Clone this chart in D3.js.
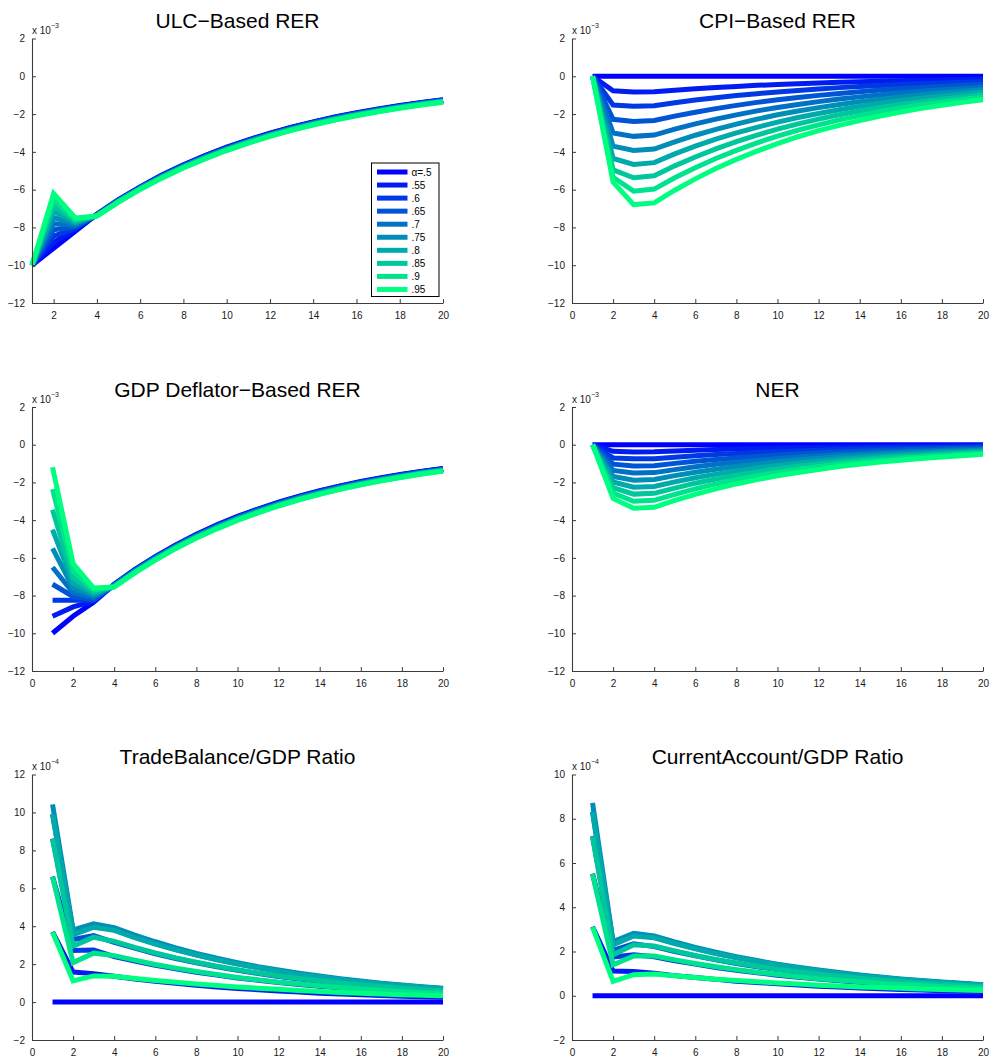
<!DOCTYPE html>
<html>
<head>
<meta charset="utf-8">
<script src="https://cdn.jsdelivr.net/npm/d3@7"></script>
<style>
  html, body { margin: 0; padding: 0; background: #fff; }
  svg { display: block; }
  text { font-family: "Liberation Sans", Arial, Helvetica, sans-serif; }
</style>
</head>
<body>
<svg id="chart" width="995" height="1058"></svg>
<script>
// ---------------- DATA ----------------
const periods = [1,2,3,4,5,6,7,8,9,10,11,12,13,14,15,16,17,18,19,20];
const alphaLabels = ["\u03B1=.5", ".55", ".6", ".65", ".7", ".75", ".8", ".85", ".9", ".95"];
const titles = ["ULC\u2212Based RER", "CPI\u2212Based RER", "GDP Deflator\u2212Based RER", "NER",
                "TradeBalance/GDP Ratio", "CurrentAccount/GDP Ratio"];
const exponents = ["\u22123", "\u22123", "\u22123", "\u22123", "\u22124", "\u22124"];
const yTicksRER = [-12, -10, -8, -6, -4, -2, 0, 2];
const yTicksTB = [-2, 0, 2, 4, 6, 8, 10, 12];
const yTicksCA = [-2, 0, 2, 4, 6, 8, 10];
const xTicksFull = [0, 2, 4, 6, 8, 10, 12, 14, 16, 18, 20];
const xTicksFrom2 = [2, 4, 6, 8, 10, 12, 14, 16, 18, 20];

// values in units of 1e-3 (RER panels) and 1e-4 (ratio panels)
const ulc = [
  [-10,-9.10,-8.20,-7.30,-6.53,-5.85,-5.23,-4.69,-4.19,-3.75,-3.36,-3.01,-2.69,-2.41,-2.15,-1.93,-1.73,-1.55,-1.38,-1.24],
  [-10,-8.78,-8.12,-7.31,-6.54,-5.87,-5.25,-4.71,-4.21,-3.77,-3.38,-3.03,-2.71,-2.43,-2.17,-1.95,-1.75,-1.57,-1.40,-1.25],
  [-10,-8.46,-8.04,-7.32,-6.56,-5.88,-5.27,-4.73,-4.23,-3.79,-3.40,-3.05,-2.73,-2.45,-2.19,-1.97,-1.76,-1.58,-1.41,-1.27],
  [-10,-8.13,-7.97,-7.33,-6.57,-5.90,-5.28,-4.74,-4.25,-3.81,-3.42,-3.07,-2.75,-2.47,-2.21,-1.98,-1.78,-1.60,-1.43,-1.28],
  [-10,-7.80,-7.89,-7.34,-6.59,-5.91,-5.30,-4.76,-4.27,-3.83,-3.44,-3.09,-2.77,-2.49,-2.23,-2.00,-1.80,-1.61,-1.44,-1.30],
  [-10,-7.48,-7.81,-7.36,-6.60,-5.93,-5.32,-4.78,-4.29,-3.85,-3.46,-3.10,-2.78,-2.50,-2.24,-2.02,-1.81,-1.63,-1.46,-1.31],
  [-10,-7.16,-7.73,-7.37,-6.62,-5.94,-5.34,-4.80,-4.31,-3.87,-3.48,-3.12,-2.80,-2.52,-2.26,-2.04,-1.83,-1.64,-1.47,-1.33],
  [-10,-6.84,-7.66,-7.38,-6.63,-5.96,-5.35,-4.81,-4.33,-3.89,-3.50,-3.14,-2.82,-2.54,-2.28,-2.05,-1.85,-1.66,-1.49,-1.34],
  [-10,-6.52,-7.58,-7.39,-6.65,-5.97,-5.37,-4.83,-4.35,-3.91,-3.52,-3.16,-2.84,-2.56,-2.30,-2.07,-1.86,-1.67,-1.50,-1.36],
  [-10,-6.20,-7.50,-7.40,-6.66,-5.99,-5.39,-4.85,-4.37,-3.93,-3.54,-3.18,-2.86,-2.58,-2.32,-2.09,-1.88,-1.69,-1.52,-1.37]
];
const cpi = [
  [0,0,0,0,0,0,0,0,0,0,0,0,0,0,0,0,0,0,0,0],
  [0,-0.77,-0.83,-0.82,-0.74,-0.66,-0.60,-0.54,-0.48,-0.44,-0.39,-0.35,-0.32,-0.29,-0.26,-0.23,-0.21,-0.19,-0.17,-0.15],
  [0,-1.52,-1.59,-1.56,-1.40,-1.26,-1.14,-1.02,-0.92,-0.83,-0.75,-0.67,-0.60,-0.54,-0.49,-0.44,-0.40,-0.36,-0.32,-0.29],
  [0,-2.28,-2.39,-2.34,-2.11,-1.90,-1.71,-1.54,-1.38,-1.24,-1.12,-1.01,-0.91,-0.82,-0.73,-0.66,-0.59,-0.54,-0.48,-0.43],
  [0,-3.00,-3.18,-3.11,-2.80,-2.52,-2.27,-2.04,-1.83,-1.65,-1.49,-1.34,-1.20,-1.09,-0.98,-0.88,-0.79,-0.71,-0.64,-0.58],
  [0,-3.70,-3.93,-3.85,-3.47,-3.12,-2.81,-2.53,-2.27,-2.04,-1.84,-1.66,-1.49,-1.34,-1.21,-1.09,-0.98,-0.88,-0.79,-0.71],
  [0,-4.35,-4.67,-4.57,-4.11,-3.70,-3.33,-3.00,-2.70,-2.43,-2.18,-1.97,-1.77,-1.59,-1.43,-1.29,-1.16,-1.05,-0.94,-0.85],
  [0,-4.95,-5.37,-5.27,-4.74,-4.27,-3.84,-3.46,-3.11,-2.80,-2.52,-2.27,-2.04,-1.84,-1.65,-1.49,-1.34,-1.21,-1.09,-0.97],
  [0,-5.35,-6.08,-5.97,-5.37,-4.84,-4.35,-3.92,-3.52,-3.17,-2.85,-2.57,-2.31,-2.08,-1.87,-1.68,-1.52,-1.37,-1.23,-1.10],
  [0,-5.60,-6.79,-6.70,-6.03,-5.43,-4.88,-4.40,-3.96,-3.56,-3.20,-2.88,-2.60,-2.34,-2.10,-1.89,-1.70,-1.53,-1.38,-1.24]
];
const gdp = [
  [-10.0,-9.10,-8.35,-7.40,-6.62,-5.93,-5.31,-4.75,-4.25,-3.80,-3.41,-3.05,-2.73,-2.44,-2.18,-1.95,-1.75,-1.57,-1.40,-1.26],
  [-9.10,-8.60,-8.30,-7.42,-6.64,-5.95,-5.33,-4.77,-4.27,-3.82,-3.43,-3.07,-2.75,-2.46,-2.20,-1.97,-1.77,-1.59,-1.42,-1.28],
  [-8.25,-8.25,-8.25,-7.43,-6.66,-5.97,-5.35,-4.79,-4.30,-3.85,-3.45,-3.09,-2.77,-2.48,-2.22,-1.99,-1.79,-1.61,-1.43,-1.29],
  [-7.40,-8.05,-8.20,-7.45,-6.68,-5.99,-5.37,-4.82,-4.32,-3.87,-3.48,-3.12,-2.79,-2.50,-2.24,-2.01,-1.81,-1.62,-1.45,-1.31],
  [-6.50,-7.85,-8.10,-7.47,-6.70,-6.01,-5.39,-4.84,-4.34,-3.89,-3.50,-3.14,-2.81,-2.52,-2.26,-2.03,-1.83,-1.64,-1.47,-1.32],
  [-5.50,-7.60,-8.00,-7.48,-6.72,-6.04,-5.42,-4.86,-4.37,-3.92,-3.52,-3.16,-2.84,-2.55,-2.29,-2.05,-1.84,-1.66,-1.48,-1.34],
  [-4.50,-7.35,-7.90,-7.50,-6.74,-6.06,-5.44,-4.88,-4.39,-3.94,-3.54,-3.18,-2.86,-2.57,-2.31,-2.07,-1.86,-1.68,-1.50,-1.36],
  [-3.45,-7.05,-7.80,-7.52,-6.76,-6.08,-5.46,-4.91,-4.41,-3.96,-3.57,-3.21,-2.88,-2.59,-2.33,-2.09,-1.88,-1.69,-1.52,-1.37],
  [-2.35,-6.70,-7.70,-7.53,-6.78,-6.10,-5.48,-4.93,-4.44,-3.99,-3.59,-3.23,-2.90,-2.61,-2.35,-2.11,-1.90,-1.71,-1.53,-1.39],
  [-1.20,-6.30,-7.60,-7.55,-6.80,-6.12,-5.50,-4.95,-4.46,-4.01,-3.61,-3.25,-2.92,-2.63,-2.37,-2.13,-1.92,-1.73,-1.55,-1.40]
];
const ner = [
  [0,0,0,0,0,0,0,0,0,0,0,0,0,0,0,0,0,0,0,0],
  [0,-0.35,-0.38,-0.37,-0.33,-0.29,-0.26,-0.23,-0.21,-0.18,-0.16,-0.15,-0.13,-0.12,-0.10,-0.09,-0.08,-0.07,-0.06,-0.06],
  [0,-0.70,-0.75,-0.74,-0.66,-0.59,-0.52,-0.46,-0.41,-0.37,-0.33,-0.29,-0.26,-0.23,-0.20,-0.18,-0.16,-0.15,-0.13,-0.11],
  [0,-1.03,-1.13,-1.11,-0.99,-0.88,-0.78,-0.70,-0.62,-0.55,-0.49,-0.44,-0.39,-0.35,-0.31,-0.27,-0.24,-0.22,-0.19,-0.17],
  [0,-1.36,-1.50,-1.48,-1.32,-1.17,-1.04,-0.93,-0.83,-0.74,-0.65,-0.58,-0.52,-0.46,-0.41,-0.37,-0.33,-0.29,-0.26,-0.23],
  [0,-1.68,-1.88,-1.84,-1.64,-1.46,-1.30,-1.15,-1.03,-0.91,-0.81,-0.72,-0.64,-0.57,-0.51,-0.45,-0.40,-0.36,-0.32,-0.29],
  [0,-1.98,-2.25,-2.21,-1.97,-1.75,-1.56,-1.39,-1.23,-1.10,-0.98,-0.87,-0.77,-0.69,-0.61,-0.55,-0.49,-0.43,-0.38,-0.34],
  [0,-2.28,-2.62,-2.58,-2.30,-2.04,-1.82,-1.62,-1.44,-1.28,-1.14,-1.02,-0.90,-0.80,-0.71,-0.64,-0.57,-0.51,-0.45,-0.40],
  [0,-2.57,-3.00,-2.95,-2.63,-2.34,-2.08,-1.85,-1.65,-1.47,-1.30,-1.16,-1.03,-0.92,-0.82,-0.73,-0.65,-0.58,-0.51,-0.46],
  [0,-2.85,-3.37,-3.32,-2.95,-2.63,-2.34,-2.08,-1.85,-1.65,-1.47,-1.31,-1.16,-1.04,-0.92,-0.82,-0.73,-0.65,-0.58,-0.51]
];
const tradeBalance = [
  [0,0,0,0,0,0,0,0,0,0,0,0,0,0,0,0,0,0,0,0],
  [3.70,1.58,1.50,1.36,1.22,1.10,0.99,0.89,0.80,0.72,0.65,0.58,0.53,0.47,0.43,0.38,0.35,0.31,0.28,0.25],
  [6.62,2.72,2.75,2.40,2.16,1.94,1.75,1.57,1.42,1.27,1.15,1.03,0.93,0.84,0.75,0.68,0.61,0.55,0.49,0.44],
  [8.62,3.30,3.50,3.15,2.84,2.55,2.30,2.07,1.86,1.67,1.51,1.35,1.22,1.10,0.99,0.89,0.80,0.72,0.65,0.58],
  [9.92,3.72,4.02,3.80,3.42,3.08,2.77,2.49,2.24,2.02,1.82,1.63,1.47,1.33,1.19,1.07,0.97,0.87,0.78,0.70],
  [10.42,3.80,4.12,3.92,3.53,3.18,2.86,2.57,2.31,2.08,1.87,1.69,1.52,1.37,1.23,1.11,0.99,0.90,0.81,0.73],
  [9.90,3.55,3.95,3.78,3.40,3.06,2.76,2.48,2.23,2.01,1.81,1.63,1.46,1.32,1.19,1.07,0.96,0.87,0.78,0.70],
  [8.60,2.95,3.42,3.20,2.88,2.59,2.33,2.10,1.89,1.70,1.53,1.38,1.24,1.12,1.00,0.90,0.81,0.73,0.66,0.59],
  [6.60,2.08,2.58,2.45,2.21,1.98,1.79,1.61,1.45,1.30,1.17,1.05,0.95,0.86,0.77,0.69,0.62,0.56,0.50,0.45],
  [3.68,1.12,1.38,1.36,1.24,1.14,1.04,0.95,0.87,0.80,0.73,0.67,0.61,0.56,0.51,0.47,0.43,0.39,0.36,0.33]
];
const currentAccount = [
  [0,0,0,0,0,0,0,0,0,0,0,0,0,0,0,0,0,0,0,0],
  [3.12,1.12,1.10,1.02,0.91,0.82,0.74,0.66,0.60,0.54,0.48,0.43,0.39,0.35,0.32,0.28,0.26,0.23,0.21,0.19],
  [5.52,1.75,1.85,1.76,1.58,1.43,1.28,1.15,1.04,0.93,0.84,0.76,0.68,0.61,0.55,0.50,0.45,0.40,0.36,0.33],
  [7.22,2.05,2.35,2.22,2.00,1.80,1.62,1.46,1.31,1.18,1.06,0.95,0.86,0.77,0.70,0.63,0.56,0.51,0.46,0.41],
  [8.32,2.40,2.75,2.64,2.38,2.14,1.92,1.73,1.56,1.40,1.26,1.14,1.02,0.92,0.83,0.74,0.67,0.60,0.54,0.49],
  [8.72,2.45,2.82,2.70,2.43,2.19,1.97,1.77,1.59,1.43,1.29,1.16,1.05,0.94,0.85,0.76,0.69,0.62,0.56,0.50],
  [8.30,2.30,2.70,2.62,2.36,2.12,1.91,1.72,1.55,1.39,1.25,1.13,1.01,0.91,0.82,0.74,0.67,0.60,0.54,0.48],
  [7.20,1.85,2.30,2.25,2.03,1.82,1.64,1.48,1.33,1.19,1.08,0.97,0.87,0.79,0.71,0.63,0.57,0.52,0.46,0.42],
  [5.50,1.40,1.80,1.80,1.62,1.46,1.31,1.18,1.06,0.96,0.86,0.77,0.70,0.63,0.57,0.51,0.46,0.41,0.37,0.33],
  [3.10,0.65,0.95,0.98,0.90,0.82,0.75,0.69,0.63,0.58,0.53,0.48,0.44,0.40,0.37,0.34,0.31,0.28,0.26,0.24]
];

// ---------------- LAYOUT ----------------
const svg = d3.select("#chart");
const colL = [32, 443], colR = [572, 983];
const rows = [[38.5, 303], [407, 671], [774.5, 1040]];

const panels = [
  { data: ulc, xDom: [1, 20], xTicks: xTicksFrom2, yDom: [-12, 2], yTicks: yTicksRER, cx: colL, ry: rows[0], legend: true },
  { data: cpi, xDom: [0, 20], xTicks: xTicksFull, yDom: [-12, 2], yTicks: yTicksRER, cx: colR, ry: rows[0] },
  { data: gdp, xDom: [0, 20], xTicks: xTicksFull, yDom: [-12, 2], yTicks: yTicksRER, cx: colL, ry: rows[1] },
  { data: ner, xDom: [0, 20], xTicks: xTicksFull, yDom: [-12, 2], yTicks: yTicksRER, cx: colR, ry: rows[1] },
  { data: tradeBalance, xDom: [0, 20], xTicks: xTicksFull, yDom: [-2, 12], yTicks: yTicksTB, cx: colL, ry: rows[2] },
  { data: currentAccount, xDom: [0, 20], xTicks: xTicksFull, yDom: [-2, 10], yTicks: yTicksCA, cx: colR, ry: rows[2] }
];

// MATLAB "winter" colormap, 10 levels
const color = i => {
  const t = i / (alphaLabels.length - 1);
  return d3.rgb(0, Math.round(255 * t), Math.round(255 * (1 - 0.5 * t))).toString();
};

const fmt = d3.format("");

panels.forEach((p, pi) => {
  const x = d3.scaleLinear().domain(p.xDom).range(p.cx);
  const y = d3.scaleLinear().domain(p.yDom).range([p.ry[1], p.ry[0]]);
  const g = svg.append("g");

  // series lines
  const line = d3.line().x((d, i) => x(periods[i])).y(d => y(d));
  p.data.forEach((s, si) => {
    g.append("path")
      .attr("d", line(s))
      .attr("fill", "none")
      .attr("stroke", color(si))
      .attr("stroke-width", 5)
      .attr("stroke-linejoin", "miter")
      .attr("stroke-miterlimit", 3)
      .attr("stroke-linecap", "butt");
  });

  // axes (MATLAB style, ticks inward, no box)
  const xAxis = d3.axisBottom(x).tickValues(p.xTicks).tickSizeInner(-4).tickSizeOuter(0).tickPadding(9).tickFormat(fmt);
  const yAxis = d3.axisLeft(y).tickValues(p.yTicks).tickSizeInner(-4).tickSizeOuter(0).tickPadding(7).tickFormat(fmt);
  const gx = g.append("g").attr("transform", `translate(0,${p.ry[1]})`).call(xAxis);
  const gy = g.append("g").attr("transform", `translate(${p.cx[0]},0)`).call(yAxis);
  [gx, gy].forEach(a => {
    a.select(".domain").attr("stroke", "#3c3c3c").attr("stroke-width", 1.1);
    a.selectAll(".tick line").attr("stroke", "#3c3c3c").attr("stroke-width", 1);
    a.selectAll(".tick text").attr("fill", "#1a1a1a").attr("font-size", 10)
      .attr("font-family", "'Liberation Sans', Arial, sans-serif");
  });
  gx.selectAll(".tick text").attr("dy", "0.71em");

  // exponent label
  g.append("text").attr("x", p.cx[0]).attr("y", p.ry[0] - 4.5)
    .attr("font-size", 10).attr("fill", "#1a1a1a").text("x 10");
  g.append("text").attr("x", p.cx[0] + 19).attr("y", p.ry[0] - 10.5)
    .attr("font-size", 7).attr("fill", "#1a1a1a").text(exponents[pi]);

  // title
  g.append("text").attr("x", (p.cx[0] + p.cx[1]) / 2).attr("y", p.ry[0] - 10.5)
    .attr("text-anchor", "middle").attr("font-size", 21).attr("fill", "#000").text(titles[pi]);

  // legend
  if (p.legend) {
    const lg = g.append("g").attr("transform", "translate(371.5,163)");
    lg.append("rect").attr("width", 67.5).attr("height", 133.5)
      .attr("fill", "#fff").attr("stroke", "#000").attr("stroke-width", 1);
    alphaLabels.forEach((lab, i) => {
      const yy = 9 + i * 13.05;
      lg.append("line").attr("x1", 5.5).attr("x2", 36).attr("y1", yy).attr("y2", yy)
        .attr("stroke", color(i)).attr("stroke-width", 5);
      lg.append("text").attr("x", 40).attr("y", yy).attr("dy", "0.36em")
        .attr("font-size", 10).attr("fill", "#000").text(lab);
    });
  }
});
</script>
</body>
</html>
